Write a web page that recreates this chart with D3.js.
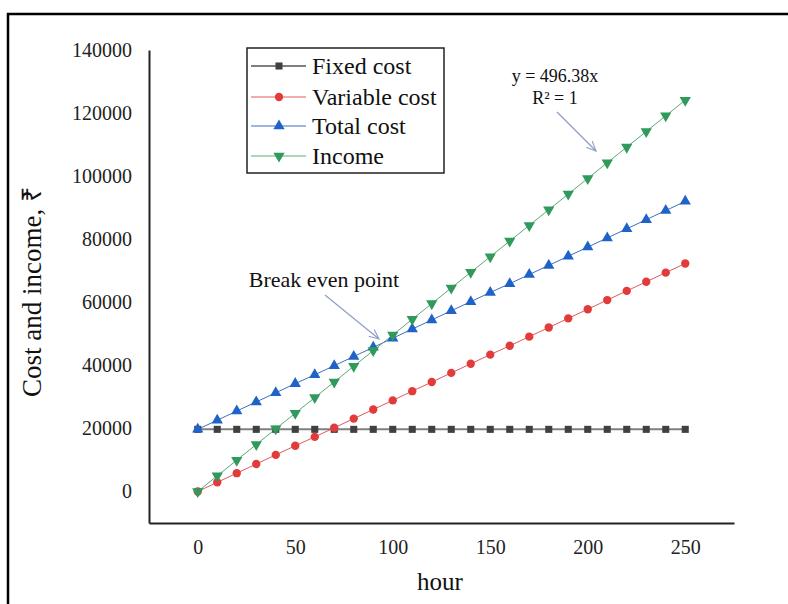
<!DOCTYPE html>
<html>
<head>
<meta charset="utf-8">
<script src="https://cdn.jsdelivr.net/npm/d3@7"></script>
<style>
  body { margin: 0; background: #fff; }
  text { font-family: "Liberation Serif", "Times New Roman", serif; }
</style>
</head>
<body>
<div id="chart"></div>
<script>
// data
const hours = [0, 10, 20, 30, 40, 50, 60, 70, 80, 90, 100, 110, 120, 130, 140, 150, 160, 170, 180, 190, 200, 210, 220, 230, 240, 250];
const fixedCost = [19700, 19700, 19700, 19700, 19700, 19700, 19700, 19700, 19700, 19700, 19700, 19700, 19700, 19700, 19700, 19700, 19700, 19700, 19700, 19700, 19700, 19700, 19700, 19700, 19700, 19700];
const variableCost = [0, 2900, 5800, 8700, 11600, 14500, 17300, 20200, 23100, 26000, 28900, 31800, 34700, 37600, 40500, 43400, 46200, 49100, 52000, 54900, 57800, 60700, 63600, 66500, 69400, 72300];
const totalCost = [19700, 22600, 25500, 28400, 31300, 34200, 37000, 39900, 42800, 45700, 48600, 51500, 54400, 57300, 60200, 63100, 65900, 68800, 71700, 74600, 77500, 80400, 83300, 86200, 89100, 92000];
const income = [0, 4960, 9930, 14890, 19860, 24820, 29780, 34750, 39710, 44670, 49640, 54600, 59570, 64530, 69490, 74460, 79420, 84380, 89350, 94310, 99280, 104240, 109200, 114170, 119130, 124100];
const xTicks = [0, 50, 100, 150, 200, 250];
const yTicks = [0, 20000, 40000, 60000, 80000, 100000, 120000, 140000];
const seriesNames = ["Fixed cost", "Variable cost", "Total cost", "Income"];

const width = 788;
const height = 604;
const margin = { top: 50, right: 54, bottom: 81, left: 149 };

const svg = d3.select("#chart")
    .append("svg")
    .attr("width", width)
    .attr("height", height);

// outer frame (cut off at right and bottom in the original)
svg.append("rect")
    .attr("x", 8)
    .attr("y", 14)
    .attr("width", 800)
    .attr("height", 620)
    .attr("fill", "none")
    .attr("stroke", "#000")
    .attr("stroke-width", 2.5);

///////////////////// SCALES ///////////////////
const xScale = d3.scaleLinear()
    .domain([-25, 275])
    .range([margin.left, width - margin.right]);

const yScale = d3.scaleLinear()
    .domain([-10000, 140000])
    .range([height - margin.bottom, margin.top]);

///////////////////// AXES ///////////////////
const xAxis = svg.append("g")
    .attr("transform", `translate(0, ${height - margin.bottom})`)
    .call(d3.axisBottom(xScale).tickValues(xTicks).tickSize(0).tickPadding(17));

const yAxis = svg.append("g")
    .attr("transform", `translate(${margin.left}, 0)`)
    .call(d3.axisLeft(yScale).tickValues(yTicks).tickSize(0).tickPadding(17).tickFormat(d3.format("d")));

[xAxis, yAxis].forEach(ax => {
    ax.select(".domain").attr("stroke", "#222").attr("stroke-width", 2);
    ax.selectAll("text")
        .attr("font-family", "Liberation Serif, serif")
        .attr("font-size", 20)
        .attr("fill", "#222");
});

// axis titles
svg.append("text")
    .attr("x", 440)
    .attr("y", 590)
    .attr("text-anchor", "middle")
    .attr("font-size", 25)
    .attr("fill", "#111")
    .text("hour");

svg.append("text")
    .attr("transform", "translate(41, 292) rotate(-90)")
    .attr("text-anchor", "middle")
    .attr("font-size", 27)
    .attr("fill", "#111")
    .text("Cost and income, \u20B9");

///////////////////// LINES ///////////////////
const series = [
    { name: seriesNames[0], values: fixedCost, line: "#7f7f7f", lw: 2, fill: "#404040", symbol: d3.symbolSquare, size: 50, rot: 0 },
    { name: seriesNames[1], values: variableCost, line: "#e05a5a", lw: 1, fill: "#e23b3b", symbol: d3.symbolCircle, size: 55, rot: 0 },
    { name: seriesNames[2], values: totalCost, line: "#3c6fc4", lw: 1, fill: "#1f63c9", symbol: d3.symbolTriangle, size: 55, rot: 0 },
    { name: seriesNames[3], values: income, line: "#5aa97a", lw: 1, fill: "#2f9a5a", symbol: d3.symbolTriangle, size: 55, rot: 180 }
];

const line = d3.line()
    .x((d, i) => xScale(hours[i]))
    .y(d => yScale(d));

series.forEach(s => {
    svg.append("path")
        .datum(s.values)
        .attr("d", line)
        .attr("fill", "none")
        .attr("stroke", s.line)
        .attr("stroke-width", s.lw);
});

series.forEach(s => {
    svg.append("g")
        .selectAll("path")
        .data(s.values)
        .join("path")
        .attr("d", d3.symbol().type(s.symbol).size(s.size))
        .attr("transform", (d, i) => `translate(${xScale(hours[i])}, ${yScale(d)}) rotate(${s.rot})`)
        .attr("fill", s.fill);
});

///////////////////// LEGEND ///////////////////
const legend = svg.append("g");

legend.append("rect")
    .attr("x", 247)
    .attr("y", 48)
    .attr("width", 197)
    .attr("height", 125)
    .attr("fill", "#fff")
    .attr("stroke", "#222")
    .attr("stroke-width", 1.5);

const rowY = [66, 97, 126, 156];
series.forEach((s, i) => {
    legend.append("line")
        .attr("x1", 251)
        .attr("x2", 306)
        .attr("y1", rowY[i])
        .attr("y2", rowY[i])
        .attr("stroke", s.line)
        .attr("stroke-width", s.lw);
    legend.append("path")
        .attr("d", d3.symbol().type(s.symbol).size(s.size)())
        .attr("transform", `translate(279, ${rowY[i]}) rotate(${s.rot})`)
        .attr("fill", s.fill);
    legend.append("text")
        .attr("x", 312)
        .attr("y", rowY[i])
        .attr("dy", "0.33em")
        .attr("font-size", 24)
        .attr("fill", "#111")
        .text(s.name);
});

///////////////////// ANNOTATIONS ///////////////////
svg.append("defs").append("marker")
    .attr("id", "arrow")
    .attr("viewBox", "0 0 10 10")
    .attr("refX", 9)
    .attr("refY", 5)
    .attr("markerWidth", 9)
    .attr("markerHeight", 9)
    .attr("orient", "auto")
    .append("path")
    .attr("d", "M0,1 L9,5 L0,9")
    .attr("fill", "none")
    .attr("stroke", "#8d9dc6")
    .attr("stroke-width", 1);

svg.append("text")
    .attr("x", 555)
    .attr("y", 82)
    .attr("text-anchor", "middle")
    .attr("font-size", 18)
    .attr("fill", "#111")
    .text("y = 496.38x");

svg.append("text")
    .attr("x", 555)
    .attr("y", 104)
    .attr("text-anchor", "middle")
    .attr("font-size", 18)
    .attr("fill", "#111")
    .text("R\u00B2 = 1");

svg.append("line")
    .attr("x1", 557).attr("y1", 112)
    .attr("x2", 596).attr("y2", 151)
    .attr("stroke", "#8d9dc6")
    .attr("stroke-width", 1.2)
    .attr("marker-end", "url(#arrow)");

svg.append("text")
    .attr("x", 324)
    .attr("y", 287)
    .attr("text-anchor", "middle")
    .attr("font-size", 22)
    .attr("fill", "#111")
    .text("Break even point");

svg.append("line")
    .attr("x1", 325).attr("y1", 295)
    .attr("x2", 379).attr("y2", 339)
    .attr("stroke", "#8d9dc6")
    .attr("stroke-width", 1.2)
    .attr("marker-end", "url(#arrow)");
</script>
</body>
</html>
